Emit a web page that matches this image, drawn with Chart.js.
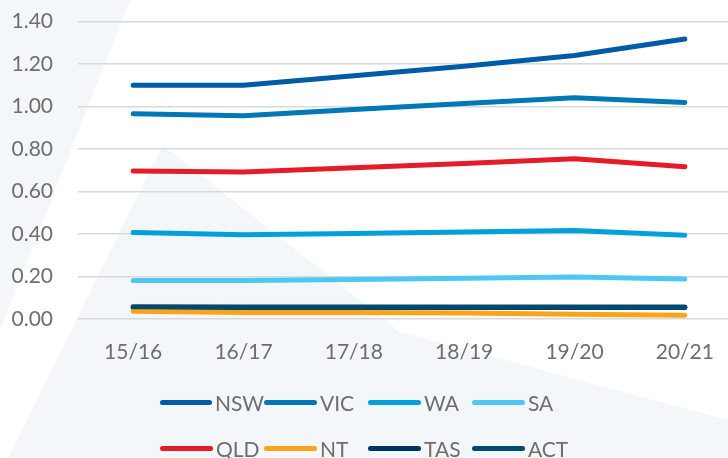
<!DOCTYPE html>
<html lang="en">
<head>
    <meta charset="UTF-8">
    <title>States line chart</title>
    <script src="https://cdn.jsdelivr.net/npm/chart.js"></script>
    <style>
        html, body {
            margin: 0;
            padding: 0;
            width: 728px;
            height: 458px;
            overflow: hidden;
            background: #ffffff;
            font-family: Lato, Arial, sans-serif;
        }
        .wash {
            position: absolute;
            left: 0;
            top: 0;
            width: 728px;
            height: 458px;
            background: #f3f7fa;
        }
        .wash.left { clip-path: polygon(0 0, 130px 0, 0 330px); }
        .wash.mid { clip-path: polygon(163px 145px, 400px 332px, 728px 420px, 728px 458px, 8px 458px); }
        .chart-box {
            position: absolute;
            left: 0;
            top: -16px;
            width: 740px;
            height: 402px;
        }
        #legend {
            position: absolute;
            left: 160px;
            top: 380px;
            display: grid;
            grid-template-columns: repeat(4, 104px);
            grid-auto-rows: 45.5px;
        }
        .item {
            display: flex;
            align-items: center;
            font-size: 21px;
            color: #6e6e6e;
        }
        .item .swatch {
            width: 53px;
            height: 5px;
            border-radius: 3px;
            margin-right: 3px;
        }
    </style>
</head>
<body>

    <div class="wash left"></div>
    <div class="wash mid"></div>

    <div class="chart-box">
        <canvas id="statesChart"></canvas>
    </div>
    <div id="legend"></div>

    <script>
        const years = ["15/16", "16/17", "17/18", "18/19", "19/20", "20/21"];

        const nsw = [1.10, 1.10, 1.145, 1.19, 1.24, 1.318];
        const vic = [0.966, 0.957, 0.986, 1.014, 1.041, 1.019];
        const wa  = [0.406, 0.396, 0.402, 0.409, 0.416, 0.394];
        const sa  = [0.181, 0.181, 0.185, 0.191, 0.197, 0.187];
        const qld = [0.696, 0.691, 0.711, 0.732, 0.754, 0.716];
        const nt  = [0.035, 0.030, 0.030, 0.027, 0.022, 0.017];
        const tas = [0.053, 0.053, 0.053, 0.053, 0.053, 0.053];
        const act = [0.057, 0.056, 0.056, 0.056, 0.056, 0.056];

        const series = [
            { label: "NSW", data: nsw, color: "#005ba6" },
            { label: "VIC", data: vic, color: "#0078b7" },
            { label: "WA",  data: wa,  color: "#00a0da" },
            { label: "SA",  data: sa,  color: "#4dc8f4" },
            { label: "QLD", data: qld, color: "#e41c2a" },
            { label: "NT",  data: nt,  color: "#fba41a" },
            { label: "TAS", data: tas, color: "#00355f" },
            { label: "ACT", data: act, color: "#004a70" }
        ];

        const ctx = document.getElementById("statesChart").getContext("2d");

        const chart = new Chart(ctx, {
            type: "line",
            data: {
                labels: years,
                datasets: series.map((s, i) => ({
                    label: s.label,
                    data: s.data,
                    borderColor: s.color,
                    backgroundColor: s.color,
                    borderWidth: 5,
                    borderCapStyle: "round",
                    borderJoinStyle: "round",
                    pointRadius: 0,
                    tension: 0,
                    order: s.label === "ACT" ? 0 : i + 1
                }))
            },
            options: {
                responsive: true,
                maintainAspectRatio: false,
                animation: false,
                layout: {
                    padding: { top: 10, left: 0, right: 0, bottom: 0 }
                },
                plugins: {
                    legend: { display: false },
                    tooltip: { enabled: false }
                },
                scales: {
                    x: {
                        offset: true,
                        grid: { display: false, drawTicks: false },
                        border: { display: false },
                        ticks: {
                            color: "#6e6e6e",
                            padding: 21,
                            font: { family: "Lato", size: 21 }
                        }
                    },
                    y: {
                        min: 0,
                        max: 1.4,
                        afterFit: function (scale) { scale.width = 78; },
                        grid: { color: "#d9d9d9", lineWidth: 1.5, drawTicks: false },
                        border: { display: false },
                        ticks: {
                            stepSize: 0.2,
                            color: "#6e6e6e",
                            padding: 25,
                            font: { family: "Lato", size: 21 },
                            callback: v => v.toFixed(2)
                        }
                    }
                }
            }
        });

        // legend in the same 4-column grid as the original
        const legend = document.getElementById("legend");
        chart.data.datasets.forEach(ds => {
            const item = document.createElement("div");
            item.className = "item";
            item.innerHTML = '<span class="swatch" style="background:' + ds.borderColor + '"></span>' + ds.label;
            legend.appendChild(item);
        });
    </script>

</body>
</html>
